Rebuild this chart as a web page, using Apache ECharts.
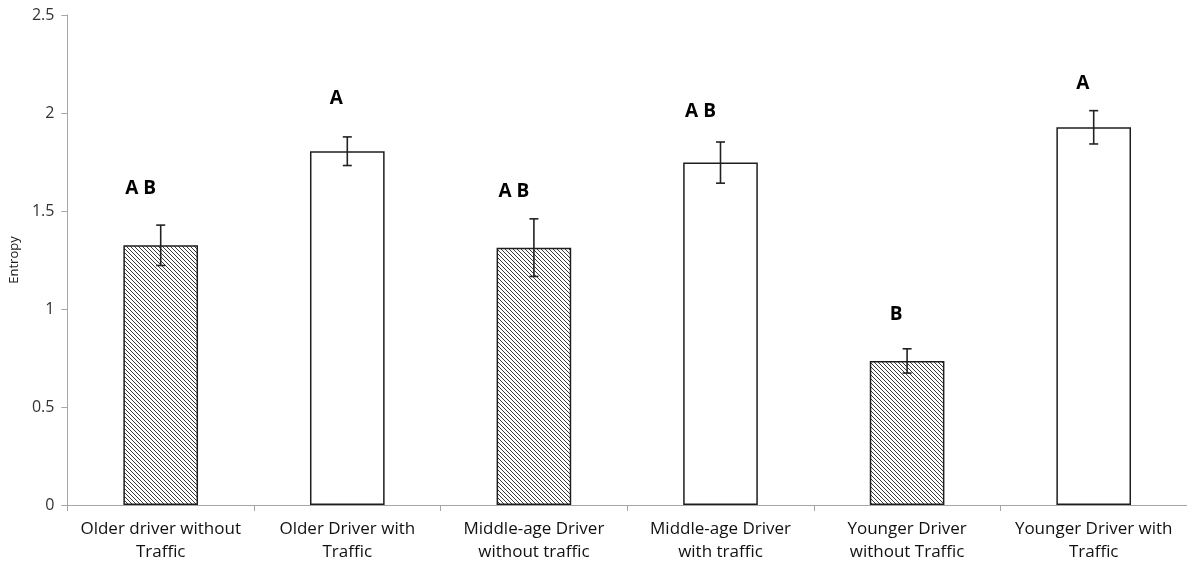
<!DOCTYPE html>
<html>
<head>
<meta charset="utf-8">
<script src="https://cdn.jsdelivr.net/npm/echarts@6/dist/echarts.min.js"></script>
<style>html,body{margin:0;padding:0;background:#fff}#c{width:1187px;height:564px}</style>
</head>
<body>
<div id="c"></div>
<script>
const categories = ['Older driver without\nTraffic','Older Driver with\nTraffic','Middle-age Driver\nwithout traffic','Middle-age Driver\nwith traffic','Younger Driver\nwithout Traffic','Younger Driver with\nTraffic'];
const entropy = [1.325, 1.805, 1.313, 1.747, 0.735, 1.927];
const errorSize = [0.103, 0.073, 0.147, 0.105, 0.062, 0.085];
const hatched = [true, false, true, false, true, false];
const letters = ['A B', 'A', 'A B', 'A B', 'B', 'A'];
const letterY = [1.612, 2.071, 1.597, 2.005, 0.969, 2.148];
const yTicks = [0, 0.5, 1, 1.5, 2, 2.5];

function hatchPattern() {
  const s = 4;
  const cv = document.createElement('canvas');
  cv.width = s; cv.height = s;
  const ctx = cv.getContext('2d');
  ctx.fillStyle = '#ffffff';
  ctx.fillRect(0, 0, s, s);
  ctx.strokeStyle = '#3a3a3a';
  ctx.lineWidth = 1;
  ctx.beginPath();
  ctx.moveTo(-1, -1); ctx.lineTo(s + 1, s + 1);
  ctx.moveTo(-1, s - 1); ctx.lineTo(1, s + 1);
  ctx.moveTo(s - 1, -1); ctx.lineTo(s + 1, 1);
  ctx.stroke();
  return cv;
}
const pattern = { image: hatchPattern(), repeat: 'repeat' };

const chart = echarts.init(document.getElementById('c'), null, { renderer: 'canvas' });
const font = '"Open Sans", Lato, sans-serif';

chart.setOption({
  animation: false,
  grid: { left: 62, right: -2, top: 15, bottom: 59, containLabel: false },
  xAxis: {
    type: 'category',
    data: categories,
    boundaryGap: true,
    axisLine: { lineStyle: { color: '#a6a6a6', width: 1 } },
    axisTick: { show: true, length: 6, alignWithLabel: false, lineStyle: { color: '#a6a6a6' } },
    axisLabel: { color: '#111', fontFamily: font, fontSize: 17, lineHeight: 23, margin: 13, interval: 0 }
  },
  yAxis: {
    type: 'value',
    min: 0, max: 2.5, interval: 0.5,
    name: 'Entropy',
    nameLocation: 'middle',
    nameRotate: 90,
    nameGap: 44,
    nameTextStyle: { color: '#1a1a1a', fontFamily: font, fontSize: 13 },
    axisLine: { show: true, lineStyle: { color: '#a6a6a6', width: 1 } },
    axisTick: { show: true, length: 6, lineStyle: { color: '#a6a6a6' } },
    splitLine: { show: false },
    axisLabel: {
      color: '#333', fontFamily: font, fontSize: 16, margin: 13,
      formatter: v => yTicks.includes(v) ? String(v) : ''
    }
  },
  series: [
    {
      type: 'bar',
      barWidth: '40%',
      data: entropy.map((v, i) => ({
        value: v,
        itemStyle: { color: hatched[i] ? pattern : '#ffffff', borderColor: '#1e1e1e', borderWidth: 1.5 }
      }))
    },
    {
      type: 'custom',
      z: 5,
      data: entropy.map((v, i) => [i, v - errorSize[i], v + errorSize[i]]),
      renderItem: (params, api) => {
        const lo = api.coord([api.value(0), api.value(1)]);
        const hi = api.coord([api.value(0), api.value(2)]);
        const x = lo[0], cap = 4.5;
        const st = { stroke: '#222', lineWidth: 1.6 };
        return {
          type: 'group',
          children: [
            { type: 'line', shape: { x1: x, y1: lo[1], x2: x, y2: hi[1] }, style: st },
            { type: 'line', shape: { x1: x - cap, y1: lo[1], x2: x + cap, y2: lo[1] }, style: st },
            { type: 'line', shape: { x1: x - cap, y1: hi[1], x2: x + cap, y2: hi[1] }, style: st }
          ]
        };
      }
    },
    {
      type: 'custom',
      z: 6,
      data: letterY.map((v, i) => [i, v]),
      renderItem: (params, api) => {
        const p = api.coord([api.value(0), api.value(1)]);
        const t = letters[params.dataIndex];
        return {
          type: 'text',
          x: p[0] - (t.length > 1 ? 20 : 11), y: p[1],
          style: {
            text: t,
            fill: '#000', font: 'bold 19px ' + font,
            align: 'center', verticalAlign: 'middle'
          }
        };
      }
    }
  ]
});
</script>
</body>
</html>
